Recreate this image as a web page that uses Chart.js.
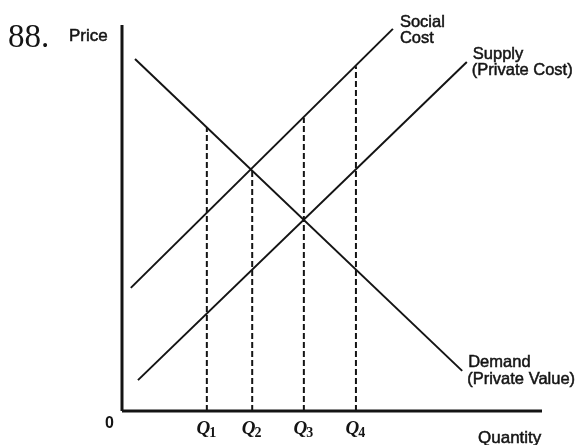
<!DOCTYPE html>
<html>
<head>
<meta charset="utf-8">
<script src="https://cdn.jsdelivr.net/npm/chart.js@4"></script>
<style>
  html, body { margin: 0; padding: 0; background: #fff; }
  #wrap { width: 580px; height: 445px; position: relative; }
</style>
</head>
<body>
<div id="wrap"><canvas id="chart" width="580" height="445"></canvas></div>
<script>
// curves (quantity, price)
const demandX = [3.1, 81.0];
const demandY = [91.2, 10.4];
const socialX = [2.1, 64.5];
const socialY = [31.9, 99.0];
const supplyX = [3.8, 82.1];
const supplyY = [8.0, 90.4];

// dashed quantity markers
const quantities = [20.2, 31.0, 43.3, 55.7];
const quantityTops = [73.4, 62.6, 76.0, 89.3];
const quantitySubs = ["1", "2", "3", "4"];

const toPoints = (xs, ys) => xs.map((x, i) => ({ x: x, y: ys[i] }));

const ink = "#141414";

const lineSet = (points, width, dash) => ({
    data: points,
    showLine: true,
    borderColor: ink,
    borderWidth: width,
    borderDash: dash || [],
    pointRadius: 0,
    clip: false,
});

const datasets = [
    // axes
    lineSet([{ x: 0, y: 0 }, { x: 0, y: 100 }], 3),
    lineSet([{ x: 0, y: 0 }, { x: 100, y: 0 }], 3),
    // curves
    lineSet(toPoints(demandX, demandY), 2),
    lineSet(toPoints(socialX, socialY), 2),
    lineSet(toPoints(supplyX, supplyY), 2),
];

quantities.forEach((q, i) => {
    datasets.push(lineSet([{ x: q, y: 0 }, { x: q, y: quantityTops[i] }], 2, [6, 3]));
});

// slightly heavier text, like the scanned labels
const heavyText = (ctx, text, x, y) => {
    ctx.fillText(text, x, y);
    ctx.strokeText(text, x, y);
};

const labelsPlugin = {
    id: "labels",
    afterDraw(chart) {
        const ctx = chart.ctx;
        const xs = chart.scales.x;
        const ys = chart.scales.y;
        const px = (v) => xs.getPixelForValue(v);
        const py = (v) => ys.getPixelForValue(v);

        ctx.save();
        ctx.fillStyle = ink;
        ctx.strokeStyle = ink;
        ctx.lineWidth = 0.5;
        ctx.textBaseline = "alphabetic";
        ctx.textAlign = "left";

        ctx.font = "33px 'Liberation Serif', 'Times New Roman', serif";
        ctx.fillText("88.", 8, 47);

        ctx.font = "17px 'Liberation Sans', Arial, sans-serif";
        heavyText(ctx, "Price", 69, 41);
        heavyText(ctx, "Quantity", 478, 443);

        ctx.font = "16.5px 'Liberation Sans', Arial, sans-serif";
        // social cost label near top end
        let sx = px(socialX[1]) + 7;
        let sy = py(socialY[1]) - 2;
        heavyText(ctx, "Social", sx, sy);
        heavyText(ctx, "Cost", sx, sy + 16);
        // supply label
        sx = px(supplyX[1]) + 5;
        sy = py(supplyY[1]) - 3;
        heavyText(ctx, "Supply", sx + 1, sy);
        heavyText(ctx, "(Private Cost)", sx, sy + 16);
        // demand label
        sx = px(demandX[1]) + 6;
        sy = py(demandY[1]) - 4;
        heavyText(ctx, "Demand", sx, sy);
        heavyText(ctx, "(Private Value)", sx - 1, sy + 17);

        // origin
        ctx.font = "bold 16px 'Liberation Sans', Arial, sans-serif";
        ctx.fillText("0", 105, 428);

        // Q labels, centred under each dashed line
        const qFont = "bold italic 19px 'Liberation Serif', 'Times New Roman', serif";
        const subFont = "bold 14px 'Liberation Serif', 'Times New Roman', serif";
        quantities.forEach((q, i) => {
            ctx.font = qFont;
            const qw = ctx.measureText("Q").width;
            ctx.font = subFont;
            const sw = ctx.measureText(quantitySubs[i]).width;
            const left = px(q) - (qw + sw) / 2;
            ctx.font = qFont;
            ctx.fillText("Q", left, 434);
            ctx.font = subFont;
            ctx.fillText(quantitySubs[i], left + qw - 1, 437);
        });

        ctx.restore();
    },
};

new Chart(document.getElementById("chart"), {
    type: "scatter",
    data: { datasets: datasets },
    options: {
        responsive: false,
        animation: false,
        layout: { padding: { left: 122, right: 38, top: 25, bottom: 34 } },
        scales: {
            x: { type: "linear", min: 0, max: 100, display: false },
            y: { type: "linear", min: 0, max: 100, display: false },
        },
        plugins: {
            legend: { display: false },
            tooltip: { enabled: false },
        },
    },
    plugins: [labelsPlugin],
});
</script>
</body>
</html>
